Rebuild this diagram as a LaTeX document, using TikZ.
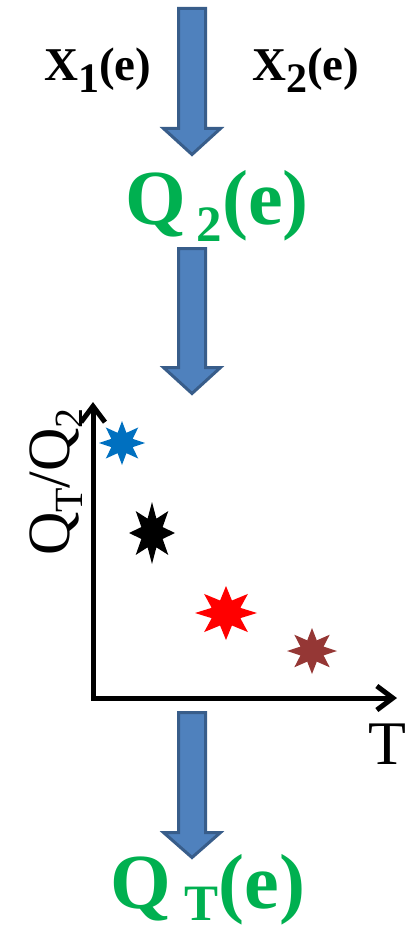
\documentclass[tikz,border=0pt]{standalone}
\usepackage{fontspec}
\setmainfont{Liberation Serif}
\usetikzlibrary{arrows.meta,calc}
\definecolor{arrfill}{HTML}{4F81BD}
\definecolor{arrline}{HTML}{385D8A}
\definecolor{qgreen}{HTML}{00B050}
\definecolor{sblue}{HTML}{0070C0}
\definecolor{sred}{HTML}{FF0000}
\definecolor{sbrown}{HTML}{953735}
\newcommand\fsz[1]{\fontsize{#1}{#1}\selectfont}
\newcommand\lowsub[3]{\raisebox{-#2pt}{\fsz{#1}#3}}
% block arrow: x, top, head start, tip
\newcommand\blockarrow[4]{%
  \draw[blockarr] ({#1-13.5},{#2+1.5}) -- ({#1+13.5},{#2+1.5}) -- ({#1+13.5},{#3+1.5})
    -- ({#1+28.5},{#3+1.5}) -- (#1,{#4-2.5}) -- ({#1-28.5},{#3+1.5}) -- ({#1-13.5},{#3+1.5}) -- cycle;}
% eight-point star: name, rx, ry, ratio, colour
\newcommand\eightstar[5]{%
  \begin{scope}[shift={(#1)}]
  \fill[#5] plot[samples at={0,...,15}]
   ({#2*ifthenelse(mod(\x,2)==0,1,#4)*cos(90+22.5*\x)},{#3*ifthenelse(mod(\x,2)==0,1,#4)*sin(90+22.5*\x)}) -- cycle;
  \end{scope}}
\begin{document}
\begin{tikzpicture}[x=1pt,y=-1pt,
  blockarr/.style={fill=arrfill,draw=arrline,line width=3pt,line join=miter},
  axis/.style={line width=5pt,line join=miter},
  txt/.style={inner sep=0pt,anchor=base west}]
\useasboundingbox (0,0) rectangle (406,933);
% labels
\node[txt] (x1) at (44,81) {\fsz{47}\bfseries X\lowsub{42}{12}{1}(e)};
\node[txt] (x2) at (252,81) {\fsz{47}\bfseries X\lowsub{42}{12}{2}(e)};
\node[txt,text=qgreen] (q2) at (125,225) {\fsz{78}\bfseries Q\hspace{11pt}\lowsub{51}{17}{2}(e)};
\node[txt,text=qgreen] (qt) at (110,908) {\fsz{78}\bfseries Q\hspace{14pt}\lowsub{51}{12}{T}(e)};
% block arrows
\blockarrow{192}{7}{127}{157}
\blockarrow{192}{247}{366}{396}
\blockarrow{192}{711}{831}{860}
% axes
\coordinate (O) at (93,698);
\coordinate (ytop) at (93,402);
\coordinate (xend) at (397,698);
\draw[axis,{Straight Barb[length=16pt,width=24pt]}-{Straight Barb[length=16pt,width=24pt]}] (ytop) -- (O) -- (xend);
\node[inner sep=0pt,anchor=base,rotate=90] (ylab) at (69,482) {\fsz{60}Q\lowsub{40}{13}{T}/Q\lowsub{40}{13}{2}};
\node[txt] (tlab) at (368,764) {\fsz{62}T};
% stars
\coordinate (s1) at (122,443);
\coordinate (s2) at (152,533);
\coordinate (s3) at (226,613);
\coordinate (s4) at (312,651);
\eightstar{s1}{23}{22}{0.5}{sblue}
\eightstar{s2}{23}{31}{0.5}{black}
\eightstar{s3}{31}{27}{0.5}{sred}
\eightstar{s4}{25}{23}{0.5}{sbrown}
\end{tikzpicture}
\end{document}
